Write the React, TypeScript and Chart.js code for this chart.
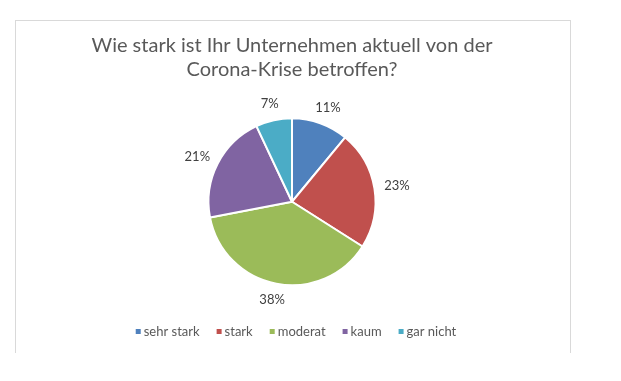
import React, { useEffect, useRef } from "react";
import { Chart, registerables } from "chart.js";

Chart.register(...registerables);

const categories = ["sehr stark", "stark", "moderat", "kaum", "gar nicht"];
const shares = [11, 23, 38, 21, 7];
const sliceColors = ["#4F81BD", "#C0504D", "#9BBB59", "#8064A2", "#4BACC6"];
const titleLines = ["Wie stark ist Ihr Unternehmen aktuell von der", "Corona-Krise betroffen?"];

const FONT = "Lato";

const outsideLabels = {
  id: "outsideLabels",
  afterDatasetsDraw(chart: any) {
    const ctx = chart.ctx;
    const meta = chart.getDatasetMeta(0);
    const values = chart.data.datasets[0].data as number[];
    ctx.save();
    ctx.font = `13px ${FONT}`;
    ctx.fillStyle = "#404040";
    ctx.textAlign = "center";
    ctx.textBaseline = "middle";
    meta.data.forEach((arc: any, i: number) => {
      const { x, y, startAngle, endAngle, outerRadius } = arc.getProps(
        ["x", "y", "startAngle", "endAngle", "outerRadius"],
        true
      );
      const mid = (startAngle + endAngle) / 2;
      const c = Math.cos(mid);
      const s = Math.sin(mid);
      const text = `${values[i]}%`;
      const halfW = ctx.measureText(text).width / 2;
      const halfH = 6.5;
      const d = outerRadius + 10;
      ctx.fillText(text, x + c * d + c * halfW, y + s * d + s * halfH);
    });
    ctx.restore();
  },
};

const customLegend = {
  id: "customLegend",
  afterDraw(chart: any) {
    const ctx = chart.ctx;
    const labels = chart.data.labels as string[];
    const colors = chart.data.datasets[0].backgroundColor as string[];
    ctx.save();
    ctx.font = `13px ${FONT}`;
    ctx.textBaseline = "middle";
    ctx.textAlign = "left";
    const box = 5;
    const boxGap = 3;
    const itemGap = 17;
    const widths = labels.map((l) => ctx.measureText(l).width);
    const total =
      widths.reduce((a, b) => a + b, 0) + labels.length * (box + boxGap) + (labels.length - 1) * itemGap;
    let x = 296 - total / 2;
    const yc = 331;
    labels.forEach((l, i) => {
      ctx.fillStyle = colors[i];
      ctx.fillRect(x, yc - box / 2 + 0.5, box, box);
      x += box + boxGap;
      ctx.fillStyle = "#595959";
      ctx.fillText(l, x, yc + 0.5);
      x += widths[i] + itemGap;
    });
    ctx.restore();
  },
};

export default function App() {
  const ref = useRef<HTMLCanvasElement>(null);
  useEffect(() => {
    if (!ref.current) return;
    const chart = new Chart(ref.current, {
      type: "pie",
      data: {
        labels: categories,
        datasets: [
          {
            data: shares,
            backgroundColor: sliceColors,
            borderColor: "#ffffff",
            borderWidth: 2,
          },
        ],
      },
      options: {
        responsive: false,
        animation: false,
        radius: 83.5,
        layout: { padding: { left: 0, right: 37, top: 0, bottom: 59.75 } },
        plugins: {
          legend: { display: false },
          tooltip: { enabled: false },
          title: {
            display: true,
            text: titleLines,
            color: "#595959",
            font: { family: FONT, size: 20, weight: "normal", lineHeight: "24.5px" },
            padding: { top: 33.25, bottom: 0 },
          },
        },
      } as any,
      plugins: [outsideLabels, customLegend],
    });
    return () => chart.destroy();
  }, []);
  return (
    <div style={{ position: "fixed", left: 0, top: 0, width: 621, height: 381, background: "#fff" }}>
      <canvas ref={ref} width={621} height={381} style={{ position: "absolute", left: 0, top: 0 }} />
      <div
        style={{
          position: "absolute",
          left: 15,
          top: 20,
          width: 554,
          height: 332,
          borderTop: "1px solid #d9d9d9",
          borderLeft: "1px solid #d9d9d9",
          borderRight: "1px solid #d9d9d9",
          pointerEvents: "none",
        }}
      />
    </div>
  );
}
